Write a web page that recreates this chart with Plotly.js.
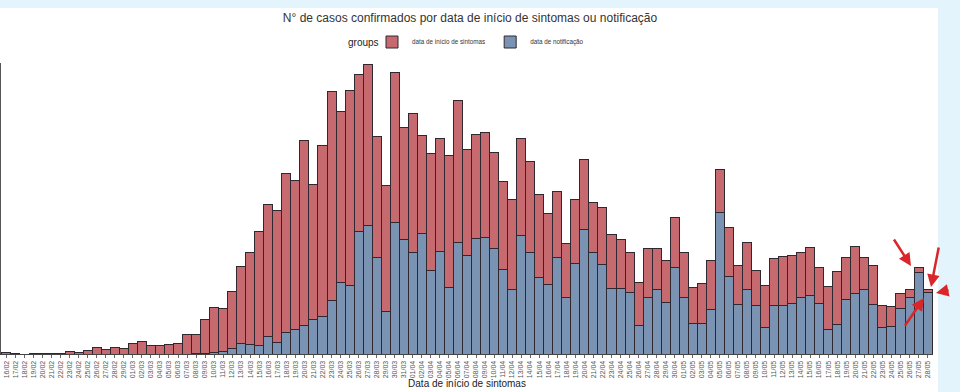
<!DOCTYPE html>
<html>
<head>
<meta charset="utf-8">
<script src="https://cdn.plot.ly/plotly-3.0.1.min.js"></script>
<style>html,body{margin:0;padding:0;background:#fff;}#chart{width:960px;height:392px;}</style>
</head>
<body>
<div id="chart"></div>
<script>
const dates = ["16/02","17/02","18/02","19/02","20/02","21/02","22/02","23/02","24/02","25/02","26/02","27/02","28/02","29/02",
"01/03","02/03","03/03","04/03","05/03","06/03","07/03","08/03","09/03","10/03","11/03","12/03","13/03","14/03","15/03","16/03",
"17/03","18/03","19/03","20/03","21/03","22/03","23/03","24/03","25/03","26/03","27/03","28/03","29/03","30/03","31/03",
"01/04","02/04","03/04","04/04","05/04","06/04","07/04","08/04","09/04","10/04","11/04","12/04","13/04","14/04","15/04",
"16/04","17/04","18/04","19/04","20/04","21/04","22/04","23/04","24/04","25/04","26/04","27/04","28/04","29/04","30/04",
"01/05","02/05","03/05","04/05","05/05","06/05","07/05","08/05","09/05","10/05","11/05","12/05","13/05","14/05","15/05",
"16/05","17/05","18/05","19/05","20/05","21/05","22/05","23/05","24/05","25/05","26/05","27/05","28/05"];

// cases counted by date of symptom onset (upper, red segment)
const inicioSintomas = [2,1,0,1,1,1,1,4,2,5,9,6,9,7,
14,17,12,12,13,14,27,26,46,62,58,79,105,127,156,181,
181,219,205,254,186,235,287,236,268,216,222,167,174,206,154,
191,134,161,155,182,195,146,143,145,132,121,124,133,126,114,
98,91,75,88,96,69,79,74,67,55,59,68,56,58,68,
63,50,55,67,60,67,54,65,49,57,65,68,66,63,66,
50,60,74,58,65,44,53,30,27,21,11,7,4];

// cases counted by notification date (lower, blue segment)
const notificacao = [0,0,0,0,0,0,0,0,0,0,0,0,0,0,
0,0,0,0,0,0,0,1,1,2,4,7,15,13,12,24,
16,29,34,39,47,52,74,98,94,168,176,132,58,181,158,
140,166,115,141,91,153,135,159,160,145,116,88,163,139,105,
95,132,77,125,171,139,123,90,90,84,39,77,89,71,119,
77,42,42,61,194,107,68,88,66,37,66,66,70,77,80,
69,33,40,75,83,88,68,36,38,62,77,112,84];

const seriesNames = ["data de início de sintomas", "data de notificação"];
const legendTitle = "groups";
const chartTitle = "N° de casos confirmados por data de início de sintomas ou notificação";
const xTitle = "Data de início de sintomas";

// layout geometry (pixels)
const W = 960, H = 392, mL = 1, mR = 27, mT = 63, mB = 38;
const pw = W - mL - mR, ph = H - mT - mB;
const px = x => (x - mL) / pw;
const py = y => (H - mB - y) / ph;

const lineStyle = {color: "#2e2830", width: 1};
const traces = [
  {type: "bar", name: seriesNames[1], x: dates, y: notificacao,
   marker: {color: "#7b93b2", line: lineStyle}, legendrank: 2},
  {type: "bar", name: seriesNames[0], x: dates, y: inicioSintomas,
   marker: {color: "#c76a6f", line: lineStyle}, legendrank: 1}
];

function arrow(hx, hy, tx, ty) {
  return {xref: "paper", yref: "paper", x: px(hx), y: py(hy),
    axref: "pixel", ayref: "pixel", ax: tx - hx, ay: ty - hy,
    showarrow: true, arrowhead: 2, arrowsize: 1, arrowwidth: 2.5,
    arrowcolor: "#d8262a", text: ""};
}

const layout = {
  width: W, height: H,
  margin: {l: mL, r: mR, t: mT, b: mB, pad: 0},
  paper_bgcolor: "#ffffff", plot_bgcolor: "#ffffff",
  barmode: "stack", bargap: 0,
  font: {family: "Liberation Sans, Arial, sans-serif", color: "#333"},
  title: {text: chartTitle, font: {size: 12, color: "#333"},
          x: px(470), xref: "paper", xanchor: "center",
          y: 1 - 18 / H, yref: "container", yanchor: "middle"},
  showlegend: true,
  legend: {orientation: "h", x: px(372), xanchor: "left",
           y: 1 - 42 / H, yref: "container", yanchor: "middle",
           font: {size: 6.3, color: "#333"}, traceorder: "normal",
           itemwidth: 30, tracegroupgap: 0},
  xaxis: {type: "category", range: [-0.6, dates.length - 0.4],
          tickmode: "array", tickvals: dates, ticktext: dates,
          tickangle: -90, tickfont: {size: 7, color: "#555"},
          ticks: "outside", ticklen: 3, tickcolor: "#666",
          showline: true, linecolor: "#444", linewidth: 1,
          showgrid: false, zeroline: false, automargin: false,
          title: {text: xTitle, font: {size: 10, color: "#222"}, standoff: 2}},
  yaxis: {range: [0, 400], dtick: 100, showticklabels: false,
          ticks: "outside", ticklen: 3, tickcolor: "#666",
          showline: true, linecolor: "#555", linewidth: 1,
          showgrid: false, zeroline: false, automargin: false},
  shapes: [
    {type: "rect", xref: "paper", yref: "paper", x0: px(-5), x1: px(965), y0: py(8), y1: py(-5),
     fillcolor: "#e4f4fc", line: {width: 0}, layer: "below"},
    {type: "rect", xref: "paper", yref: "paper", x0: px(938), x1: px(965), y0: py(397), y1: py(-5),
     fillcolor: "#e4f4fc", line: {width: 0}, layer: "below"}
  ],
  annotations: [
    {xref: "paper", yref: "paper", x: px(363), y: py(42), xanchor: "center", yanchor: "middle",
     text: legendTitle, showarrow: false, font: {size: 10, color: "#222"}},
    arrow(911, 266, 893, 238),
    arrow(931, 287, 939, 246),
    arrow(936, 293, 950, 290),
    arrow(924, 298, 904, 327)
  ]
};

Plotly.newPlot("chart", traces, layout, {displayModeBar: false, staticPlot: true});
</script>
</body>
</html>
